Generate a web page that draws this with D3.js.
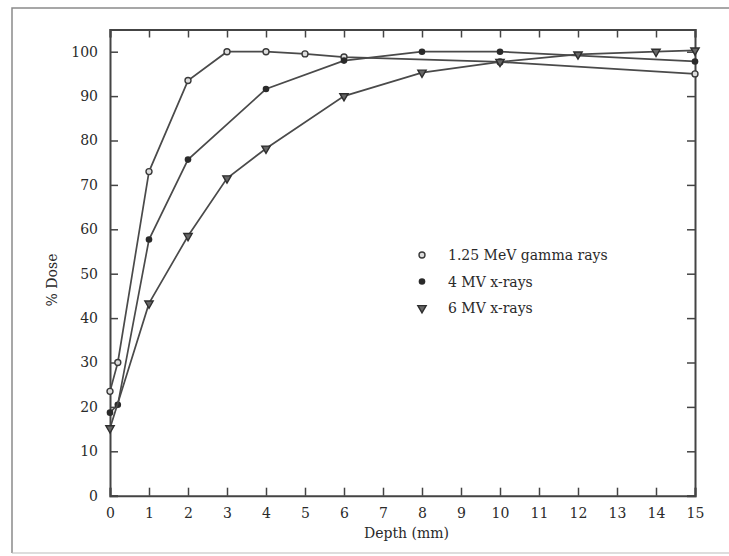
<!DOCTYPE html>
<html>
<head>
<meta charset="utf-8">
<script src="https://cdn.jsdelivr.net/npm/d3@7"></script>
<style>
  body { margin: 0; background: #fff; }
  svg { display: block; }
  text { font-family: "DejaVu Serif", "Liberation Serif", serif; fill: #2a2a2a; }
</style>
</head>
<body>
<div id="chart"></div>
<script>
// % depth dose curves for three beam energies

const gammaDepth = [0, 0.2, 1, 2, 3, 4, 5, 6, 10, 15];
const gammaDose  = [23.5, 30, 73, 93.5, 100, 100, 99.5, 98.8, 97.7, 95];

const mv4Depth = [0, 0.2, 1, 2, 4, 6, 8, 10, 15];
const mv4Dose  = [18.7, 20.5, 57.7, 75.7, 91.6, 98, 100, 100, 97.8];

const mv6Depth = [0, 1, 2, 3, 4, 6, 8, 10, 12, 14, 15];
const mv6Dose  = [15.2, 43.3, 58.5, 71.5, 78.2, 90, 95.3, 97.7, 99.4, 100, 100.3];

const legendLabels = ["1.25 MeV gamma rays", "4 MV x-rays", "6 MV x-rays"];
const xTicks = d3.range(0, 16);
const yTicks = d3.range(0, 101, 10);

(function() {
    const W = 729, H = 556;
    const margin = {top: 29.5, right: 34, bottom: 60.3, left: 110},
        width = W - margin.left - margin.right,
        height = H - margin.top - margin.bottom;

    const root = d3.select("#chart")
        .append("svg")
        .attr("width", W)
        .attr("height", H);

    // scanned page border
    root.append("path")
        .attr("d", `M12,${H - 3} L12,8 L${W},8`)
        .attr("fill", "none")
        .attr("stroke", "#8a8a8a")
        .attr("stroke-width", 1.5);
    root.append("line")
        .attr("x1", 12).attr("x2", W)
        .attr("y1", H - 3).attr("y2", H - 3)
        .attr("stroke", "#bbb");

    const svg = root.append("g")
        .attr("transform", `translate(${margin.left},${margin.top})`);

    const x = d3.scaleLinear().domain([0, 15]).range([0, width]);
    const y = d3.scaleLinear().domain([0, 105]).range([height, 0]);

    const axisColor = "#444";

    // axes, ticks pointing inward on all four sides
    const gx = svg.append("g")
        .attr("transform", `translate(0,${height})`)
        .call(d3.axisBottom(x).tickValues(xTicks).tickSize(-8).tickPadding(12).tickFormat(d3.format("d")));
    const gy = svg.append("g")
        .call(d3.axisLeft(y).tickValues(yTicks).tickSize(-8).tickPadding(12));
    const gt = svg.append("g")
        .call(d3.axisTop(x).tickValues(xTicks).tickSize(-8).tickFormat(""));
    const gr = svg.append("g")
        .attr("transform", `translate(${width},0)`)
        .call(d3.axisRight(y).tickValues(yTicks).tickSize(-8).tickFormat(""));

    [gx, gy, gt, gr].forEach(g => {
        g.select(".domain").attr("stroke", axisColor).attr("stroke-width", 2);
        g.selectAll(".tick line").attr("stroke", axisColor).attr("stroke-width", 1.5);
        g.selectAll(".tick text")
            .attr("fill", "#333")
            .style("font-family", '"DejaVu Serif", serif')
            .style("font-size", "14px");
    });

    // axis labels
    svg.append("text")
        .attr("x", width / 2 + 4)
        .attr("y", height + 42)
        .attr("text-anchor", "middle")
        .style("font-size", "14px")
        .text("Depth (mm)");

    svg.append("text")
        .attr("transform", "rotate(-90)")
        .attr("x", -(280 - margin.top))
        .attr("y", 52 - margin.left + 5)
        .attr("text-anchor", "middle")
        .style("font-size", "14px")
        .text("% Dose");

    const series = [
        {depth: gammaDepth, dose: gammaDose, marker: "open"},
        {depth: mv4Depth, dose: mv4Dose, marker: "dot"},
        {depth: mv6Depth, dose: mv6Dose, marker: "tri"}
    ];

    const line = d3.line().x(d => x(d[0])).y(d => y(d[1]));
    const lineColor = "#4a4a4a";

    function drawMarker(g, kind) {
        if (kind === "open") {
            g.append("circle").attr("r", 3)
                .attr("fill", "#ddd").attr("stroke", "#3a3a3a").attr("stroke-width", 1.4);
        } else if (kind === "dot") {
            g.append("circle").attr("r", 3.3).attr("fill", "#2a2a2a");
        } else {
            g.append("path")
                .attr("d", d3.symbol(d3.symbolTriangle, 30)())
                .attr("transform", "rotate(180)")
                .attr("fill", "#666").attr("stroke", "#2e2e2e").attr("stroke-width", 1.4);
        }
    }

    series.forEach(s => {
        const pts = s.depth.map((d, i) => [d, s.dose[i]]);
        svg.append("path")
            .datum(pts)
            .attr("fill", "none")
            .attr("stroke", lineColor)
            .attr("stroke-width", 1.7)
            .attr("d", line);
        svg.selectAll(null)
            .data(pts)
            .enter()
            .append("g")
            .attr("transform", d => `translate(${x(d[0])},${y(d[1])})`)
            .each(function() { drawMarker(d3.select(this), s.marker); });
    });

    // legend
    const legend = root.append("g").attr("transform", "translate(422,255)");
    legendLabels.forEach((lab, i) => {
        const row = legend.append("g").attr("transform", `translate(0,${i * 26.5})`);
        drawMarker(row.append("g"), series[i].marker);
        row.append("text")
            .attr("x", 26)
            .attr("y", 5)
            .style("font-size", "14px")
            .text(lab);
    });
})();
</script>
</body>
</html>
